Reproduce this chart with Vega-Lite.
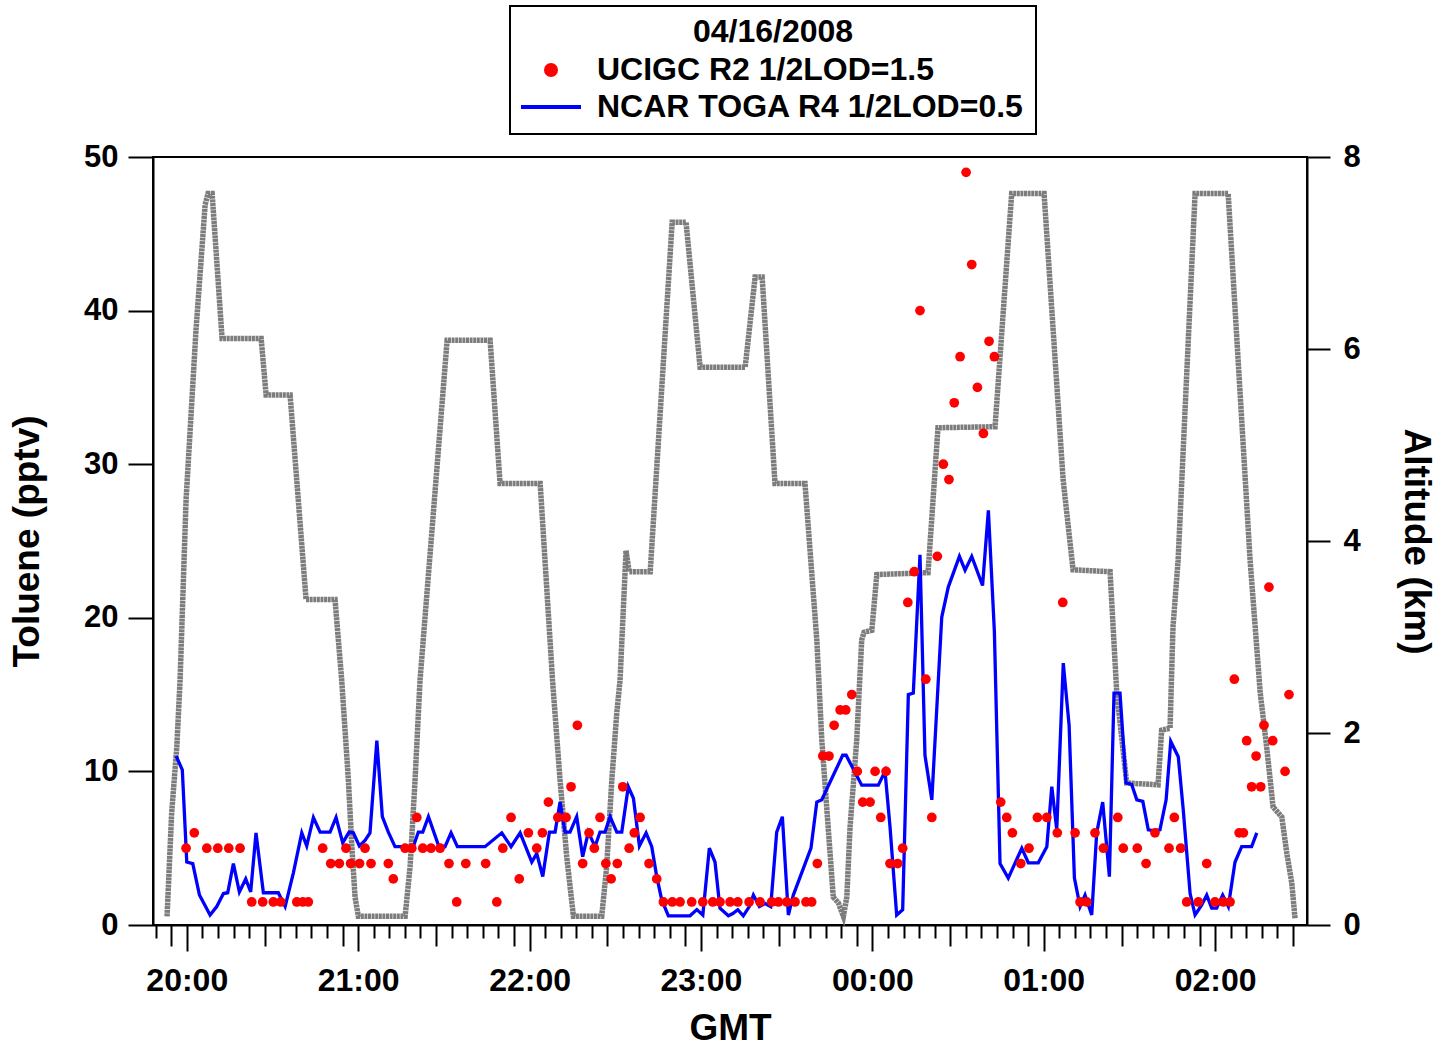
{
  "$schema": "https://vega.github.io/schema/vega-lite/v6.json",
  "width": 1154,
  "height": 768,
  "autosize": {"type": "none"},
  "padding": {"left": 153, "top": 157, "right": 134, "bottom": 123},
  "background": "white",
  "config": {
    "font": "Liberation Sans",
    "view": {"stroke": "black", "strokeWidth": 2},
    "axis": {
      "grid": false,
      "domainColor": "black",
      "domainWidth": 2,
      "tickColor": "black",
      "tickWidth": 2,
      "labelColor": "black",
      "labelFont": "Liberation Sans",
      "labelFontWeight": "bold",
      "labelFontSize": 31,
      "titleColor": "black",
      "titleFont": "Liberation Sans",
      "titleFontWeight": "bold",
      "titleFontSize": 37
    },
    "legend": {
      "orient": "none",
      "legendX": 357,
      "legendY": -151,
      "padding": 11,
      "strokeColor": "black",
      "strokeWidth": 2,
      "fillColor": "white",
      "titleFont": "Liberation Sans",
      "titleFontSize": 32,
      "titleFontWeight": "bold",
      "titleColor": "black",
      "titleAnchor": "middle",
      "titlePadding": 5,
      "titleLimit": 1000,
      "labelFont": "Liberation Sans",
      "labelFontSize": 32,
      "labelFontWeight": "bold",
      "labelColor": "black",
      "labelOffset": 30,
      "labelLimit": 1000,
      "symbolSize": 100,
      "symbolOffset": 14,
      "symbolStrokeWidth": 4,
      "rowPadding": 5
    }
  },
  "datasets": {
    "alt": [
      {"hour": 19.885, "km": 0.09}, {"hour": 19.912, "km": 1.17}, {"hour": 19.942, "km": 1.86}, {"hour": 19.961, "km": 2.55},
      {"hour": 19.996, "km": 4.43}, {"hour": 20.054, "km": 6.2}, {"hour": 20.107, "km": 7.5}, {"hour": 20.124, "km": 7.62},
      {"hour": 20.148, "km": 7.62}, {"hour": 20.206, "km": 6.11}, {"hour": 20.434, "km": 6.11}, {"hour": 20.463, "km": 5.52},
      {"hour": 20.603, "km": 5.52}, {"hour": 20.696, "km": 3.39}, {"hour": 20.865, "km": 3.39}, {"hour": 20.904, "km": 2.55},
      {"hour": 20.943, "km": 1.51}, {"hour": 20.963, "km": 0.82}, {"hour": 20.982, "km": 0.29}, {"hour": 21.001, "km": 0.09},
      {"hour": 21.274, "km": 0.09}, {"hour": 21.303, "km": 0.61}, {"hour": 21.332, "km": 1.51}, {"hour": 21.361, "km": 2.55},
      {"hour": 21.519, "km": 6.09}, {"hour": 21.77, "km": 6.09}, {"hour": 21.828, "km": 4.6}, {"hour": 22.062, "km": 4.6},
      {"hour": 22.134, "km": 2.55}, {"hour": 22.178, "km": 1.51}, {"hour": 22.217, "km": 0.71}, {"hour": 22.256, "km": 0.09},
      {"hour": 22.421, "km": 0.09}, {"hour": 22.45, "km": 0.61}, {"hour": 22.48, "km": 1.51}, {"hour": 22.509, "km": 2.21},
      {"hour": 22.528, "km": 2.55}, {"hour": 22.563, "km": 3.9}, {"hour": 22.581, "km": 3.68}, {"hour": 22.704, "km": 3.68},
      {"hour": 22.832, "km": 7.32}, {"hour": 22.913, "km": 7.32}, {"hour": 22.995, "km": 5.81}, {"hour": 23.258, "km": 5.81},
      {"hour": 23.316, "km": 6.75}, {"hour": 23.357, "km": 6.75}, {"hour": 23.432, "km": 4.6}, {"hour": 23.607, "km": 4.6},
      {"hour": 23.676, "km": 2.97}, {"hour": 23.705, "km": 1.93}, {"hour": 23.772, "km": 0.29}, {"hour": 23.802, "km": 0.23},
      {"hour": 23.831, "km": 0.09}, {"hour": 23.851, "km": 0.29}, {"hour": 23.87, "km": 1.02}, {"hour": 23.909, "km": 1.93},
      {"hour": 23.938, "km": 2.97}, {"hour": 23.952, "km": 3.05}, {"hour": 23.997, "km": 3.07}, {"hour": 24.026, "km": 3.65},
      {"hour": 24.325, "km": 3.67}, {"hour": 24.383, "km": 5.18}, {"hour": 24.716, "km": 5.19}, {"hour": 24.813, "km": 7.62},
      {"hour": 25.002, "km": 7.62}, {"hour": 25.113, "km": 4.64}, {"hour": 25.171, "km": 3.7}, {"hour": 25.387, "km": 3.68},
      {"hour": 25.426, "km": 2.42}, {"hour": 25.484, "km": 1.48}, {"hour": 25.667, "km": 1.46}, {"hour": 25.688, "km": 2.03},
      {"hour": 25.737, "km": 2.05}, {"hour": 25.754, "km": 3.1}, {"hour": 25.784, "km": 3.8}, {"hour": 25.883, "km": 7.62},
      {"hour": 26.076, "km": 7.62}, {"hour": 26.204, "km": 3.8}, {"hour": 26.263, "km": 2.42}, {"hour": 26.301, "km": 1.85},
      {"hour": 26.338, "km": 1.23}, {"hour": 26.389, "km": 1.125}, {"hour": 26.418, "km": 0.75}, {"hour": 26.447, "km": 0.44},
      {"hour": 26.466, "km": 0.07}
    ],
    "toga": [
      {"hour": 19.938, "toluene": 11.0}, {"hour": 19.974, "toluene": 10.1}, {"hour": 20.0, "toluene": 4.1}, {"hour": 20.035, "toluene": 4.0},
      {"hour": 20.074, "toluene": 1.95}, {"hour": 20.136, "toluene": 0.65}, {"hour": 20.175, "toluene": 1.2}, {"hour": 20.214, "toluene": 2.05},
      {"hour": 20.239, "toluene": 2.1}, {"hour": 20.272, "toluene": 4.0}, {"hour": 20.307, "toluene": 2.15}, {"hour": 20.344, "toluene": 3.0},
      {"hour": 20.373, "toluene": 2.15}, {"hour": 20.404, "toluene": 6.0}, {"hour": 20.447, "toluene": 2.1}, {"hour": 20.534, "toluene": 2.1},
      {"hour": 20.574, "toluene": 1.2}, {"hour": 20.622, "toluene": 3.4}, {"hour": 20.671, "toluene": 6.0}, {"hour": 20.7, "toluene": 5.15},
      {"hour": 20.739, "toluene": 7.0}, {"hour": 20.778, "toluene": 6.05}, {"hour": 20.836, "toluene": 6.05}, {"hour": 20.871, "toluene": 7.0},
      {"hour": 20.91, "toluene": 5.35}, {"hour": 20.947, "toluene": 6.05}, {"hour": 20.972, "toluene": 6.0}, {"hour": 21.007, "toluene": 5.15},
      {"hour": 21.04, "toluene": 5.5}, {"hour": 21.069, "toluene": 6.0}, {"hour": 21.109, "toluene": 12.0}, {"hour": 21.141, "toluene": 7.05},
      {"hour": 21.176, "toluene": 6.05}, {"hour": 21.215, "toluene": 5.1}, {"hour": 21.322, "toluene": 5.1}, {"hour": 21.351, "toluene": 6.05},
      {"hour": 21.377, "toluene": 6.05}, {"hour": 21.41, "toluene": 7.05}, {"hour": 21.468, "toluene": 5.2}, {"hour": 21.507, "toluene": 5.1},
      {"hour": 21.542, "toluene": 6.0}, {"hour": 21.579, "toluene": 5.1}, {"hour": 21.74, "toluene": 5.1}, {"hour": 21.838, "toluene": 6.0},
      {"hour": 21.892, "toluene": 5.1}, {"hour": 21.945, "toluene": 6.0}, {"hour": 22.013, "toluene": 4.1}, {"hour": 22.042, "toluene": 4.65},
      {"hour": 22.077, "toluene": 3.15}, {"hour": 22.116, "toluene": 6.05}, {"hour": 22.149, "toluene": 6.05}, {"hour": 22.178, "toluene": 8.0},
      {"hour": 22.207, "toluene": 6.05}, {"hour": 22.236, "toluene": 6.05}, {"hour": 22.275, "toluene": 7.05}, {"hour": 22.31, "toluene": 4.45},
      {"hour": 22.343, "toluene": 6.05}, {"hour": 22.382, "toluene": 5.1}, {"hour": 22.411, "toluene": 6.05}, {"hour": 22.44, "toluene": 6.05},
      {"hour": 22.47, "toluene": 7.05}, {"hour": 22.509, "toluene": 6.05}, {"hour": 22.538, "toluene": 6.05}, {"hour": 22.576, "toluene": 9.0},
      {"hour": 22.606, "toluene": 8.25}, {"hour": 22.641, "toluene": 5.15}, {"hour": 22.68, "toluene": 6.0}, {"hour": 22.713, "toluene": 5.1},
      {"hour": 22.742, "toluene": 3.15}, {"hour": 22.771, "toluene": 1.65}, {"hour": 22.81, "toluene": 0.6}, {"hour": 22.936, "toluene": 0.6},
      {"hour": 22.976, "toluene": 1.0}, {"hour": 23.011, "toluene": 0.65}, {"hour": 23.049, "toluene": 5.0}, {"hour": 23.082, "toluene": 4.1},
      {"hour": 23.111, "toluene": 1.1}, {"hour": 23.16, "toluene": 0.6}, {"hour": 23.186, "toluene": 0.75}, {"hour": 23.215, "toluene": 1.0},
      {"hour": 23.247, "toluene": 0.6}, {"hour": 23.282, "toluene": 1.2}, {"hour": 23.306, "toluene": 1.95}, {"hour": 23.341, "toluene": 1.2},
      {"hour": 23.374, "toluene": 1.4}, {"hour": 23.407, "toluene": 1.2}, {"hour": 23.442, "toluene": 6.05}, {"hour": 23.475, "toluene": 7.05},
      {"hour": 23.51, "toluene": 0.65}, {"hour": 23.539, "toluene": 1.95}, {"hour": 23.642, "toluene": 5.0}, {"hour": 23.676, "toluene": 8.0},
      {"hour": 23.705, "toluene": 8.15}, {"hour": 23.827, "toluene": 11.05}, {"hour": 23.847, "toluene": 11.05}, {"hour": 23.938, "toluene": 9.1},
      {"hour": 24.035, "toluene": 9.1}, {"hour": 24.074, "toluene": 10.0}, {"hour": 24.103, "toluene": 6.4}, {"hour": 24.142, "toluene": 0.65},
      {"hour": 24.177, "toluene": 1.0}, {"hour": 24.21, "toluene": 15.0}, {"hour": 24.239, "toluene": 15.1}, {"hour": 24.278, "toluene": 24.1},
      {"hour": 24.307, "toluene": 11.05}, {"hour": 24.347, "toluene": 8.15}, {"hour": 24.405, "toluene": 20.05}, {"hour": 24.443, "toluene": 22.0},
      {"hour": 24.508, "toluene": 24.0}, {"hour": 24.541, "toluene": 23.1}, {"hour": 24.58, "toluene": 24.0}, {"hour": 24.643, "toluene": 22.1},
      {"hour": 24.677, "toluene": 27.0}, {"hour": 24.712, "toluene": 19.1}, {"hour": 24.745, "toluene": 4.0}, {"hour": 24.793, "toluene": 3.05},
      {"hour": 24.872, "toluene": 5.0}, {"hour": 24.91, "toluene": 4.05}, {"hour": 24.968, "toluene": 4.05}, {"hour": 25.018, "toluene": 5.1},
      {"hour": 25.047, "toluene": 9.0}, {"hour": 25.076, "toluene": 6.2}, {"hour": 25.114, "toluene": 17.05}, {"hour": 25.148, "toluene": 13.0},
      {"hour": 25.179, "toluene": 3.05}, {"hour": 25.212, "toluene": 1.2}, {"hour": 25.241, "toluene": 1.95}, {"hour": 25.28, "toluene": 0.65},
      {"hour": 25.309, "toluene": 6.0}, {"hour": 25.344, "toluene": 8.0}, {"hour": 25.383, "toluene": 3.15}, {"hour": 25.41, "toluene": 15.1},
      {"hour": 25.445, "toluene": 15.1}, {"hour": 25.48, "toluene": 9.25}, {"hour": 25.513, "toluene": 9.15}, {"hour": 25.543, "toluene": 8.15},
      {"hour": 25.578, "toluene": 8.05}, {"hour": 25.61, "toluene": 6.2}, {"hour": 25.639, "toluene": 6.15}, {"hour": 25.678, "toluene": 6.2},
      {"hour": 25.714, "toluene": 8.15}, {"hour": 25.741, "toluene": 11.95}, {"hour": 25.785, "toluene": 10.95}, {"hour": 25.814, "toluene": 7.5},
      {"hour": 25.854, "toluene": 2.05}, {"hour": 25.883, "toluene": 0.65}, {"hour": 25.922, "toluene": 1.3}, {"hour": 25.951, "toluene": 1.95},
      {"hour": 25.98, "toluene": 1.1}, {"hour": 26.009, "toluene": 1.1}, {"hour": 26.044, "toluene": 1.95}, {"hour": 26.077, "toluene": 1.2},
      {"hour": 26.116, "toluene": 4.1}, {"hour": 26.155, "toluene": 5.1}, {"hour": 26.213, "toluene": 5.1}, {"hour": 26.243, "toluene": 6.0}
    ],
    "ucigc": [
      {"hour": 19.996, "toluene": 5}, {"hour": 20.044, "toluene": 6}, {"hour": 20.117, "toluene": 5}, {"hour": 20.181, "toluene": 5},
      {"hour": 20.245, "toluene": 5}, {"hour": 20.311, "toluene": 5}, {"hour": 20.379, "toluene": 1.5}, {"hour": 20.443, "toluene": 1.5},
      {"hour": 20.505, "toluene": 1.5}, {"hour": 20.548, "toluene": 1.5}, {"hour": 20.642, "toluene": 1.5}, {"hour": 20.677, "toluene": 1.5},
      {"hour": 20.709, "toluene": 1.5}, {"hour": 20.793, "toluene": 5}, {"hour": 20.84, "toluene": 4}, {"hour": 20.89, "toluene": 4},
      {"hour": 20.929, "toluene": 5}, {"hour": 20.956, "toluene": 4}, {"hour": 21.008, "toluene": 4}, {"hour": 21.04, "toluene": 5},
      {"hour": 21.075, "toluene": 4}, {"hour": 21.176, "toluene": 4}, {"hour": 21.205, "toluene": 3}, {"hour": 21.274, "toluene": 5},
      {"hour": 21.313, "toluene": 5}, {"hour": 21.342, "toluene": 7}, {"hour": 21.377, "toluene": 5}, {"hour": 21.425, "toluene": 5},
      {"hour": 21.478, "toluene": 5}, {"hour": 21.53, "toluene": 4}, {"hour": 21.575, "toluene": 1.5}, {"hour": 21.628, "toluene": 4},
      {"hour": 21.744, "toluene": 4}, {"hour": 21.809, "toluene": 1.5}, {"hour": 21.844, "toluene": 5}, {"hour": 21.892, "toluene": 7},
      {"hour": 21.94, "toluene": 3}, {"hour": 21.993, "toluene": 6}, {"hour": 22.042, "toluene": 5}, {"hour": 22.075, "toluene": 6},
      {"hour": 22.11, "toluene": 8}, {"hour": 22.165, "toluene": 7}, {"hour": 22.213, "toluene": 7}, {"hour": 22.242, "toluene": 9},
      {"hour": 22.279, "toluene": 13}, {"hour": 22.31, "toluene": 4}, {"hour": 22.347, "toluene": 6}, {"hour": 22.378, "toluene": 5},
      {"hour": 22.411, "toluene": 7}, {"hour": 22.445, "toluene": 4}, {"hour": 22.476, "toluene": 3}, {"hour": 22.512, "toluene": 4},
      {"hour": 22.544, "toluene": 9}, {"hour": 22.581, "toluene": 5}, {"hour": 22.611, "toluene": 6}, {"hour": 22.645, "toluene": 7},
      {"hour": 22.697, "toluene": 4}, {"hour": 22.742, "toluene": 3}, {"hour": 22.781, "toluene": 1.5}, {"hour": 22.833, "toluene": 1.5},
      {"hour": 22.878, "toluene": 1.5}, {"hour": 22.946, "toluene": 1.5}, {"hour": 23.011, "toluene": 1.5}, {"hour": 23.069, "toluene": 1.5},
      {"hour": 23.111, "toluene": 1.5}, {"hour": 23.17, "toluene": 1.5}, {"hour": 23.215, "toluene": 1.5}, {"hour": 23.281, "toluene": 1.5},
      {"hour": 23.345, "toluene": 1.5}, {"hour": 23.413, "toluene": 1.5}, {"hour": 23.452, "toluene": 1.5}, {"hour": 23.501, "toluene": 1.5},
      {"hour": 23.549, "toluene": 1.5}, {"hour": 23.613, "toluene": 1.5}, {"hour": 23.646, "toluene": 1.5}, {"hour": 23.679, "toluene": 4},
      {"hour": 23.711, "toluene": 11}, {"hour": 23.747, "toluene": 11}, {"hour": 23.777, "toluene": 13}, {"hour": 23.812, "toluene": 14},
      {"hour": 23.845, "toluene": 14}, {"hour": 23.88, "toluene": 15}, {"hour": 23.912, "toluene": 10}, {"hour": 23.944, "toluene": 8},
      {"hour": 23.987, "toluene": 8}, {"hour": 24.016, "toluene": 10}, {"hour": 24.049, "toluene": 7}, {"hour": 24.08, "toluene": 10},
      {"hour": 24.103, "toluene": 4}, {"hour": 24.148, "toluene": 4}, {"hour": 24.177, "toluene": 5}, {"hour": 24.207, "toluene": 21},
      {"hour": 24.245, "toluene": 23}, {"hour": 24.278, "toluene": 40}, {"hour": 24.312, "toluene": 16}, {"hour": 24.347, "toluene": 7},
      {"hour": 24.379, "toluene": 24}, {"hour": 24.414, "toluene": 30}, {"hour": 24.447, "toluene": 29}, {"hour": 24.478, "toluene": 34},
      {"hour": 24.512, "toluene": 37}, {"hour": 24.547, "toluene": 49}, {"hour": 24.58, "toluene": 43}, {"hour": 24.613, "toluene": 35},
      {"hour": 24.648, "toluene": 32}, {"hour": 24.681, "toluene": 38}, {"hour": 24.712, "toluene": 37}, {"hour": 24.749, "toluene": 8},
      {"hour": 24.784, "toluene": 7}, {"hour": 24.817, "toluene": 6}, {"hour": 24.866, "toluene": 4}, {"hour": 24.914, "toluene": 5},
      {"hour": 24.963, "toluene": 7}, {"hour": 25.018, "toluene": 7}, {"hour": 25.079, "toluene": 6}, {"hour": 25.111, "toluene": 21},
      {"hour": 25.183, "toluene": 6}, {"hour": 25.212, "toluene": 1.5}, {"hour": 25.251, "toluene": 1.5}, {"hour": 25.299, "toluene": 6},
      {"hour": 25.348, "toluene": 5}, {"hour": 25.432, "toluene": 7}, {"hour": 25.464, "toluene": 5}, {"hour": 25.546, "toluene": 5},
      {"hour": 25.597, "toluene": 4}, {"hour": 25.649, "toluene": 6}, {"hour": 25.731, "toluene": 5}, {"hour": 25.762, "toluene": 7},
      {"hour": 25.799, "toluene": 5}, {"hour": 25.834, "toluene": 1.5}, {"hour": 25.902, "toluene": 1.5}, {"hour": 25.951, "toluene": 4},
      {"hour": 25.999, "toluene": 1.5}, {"hour": 26.048, "toluene": 1.5}, {"hour": 26.087, "toluene": 1.5}, {"hour": 26.112, "toluene": 16},
      {"hour": 26.14, "toluene": 6}, {"hour": 26.165, "toluene": 6}, {"hour": 26.184, "toluene": 12}, {"hour": 26.213, "toluene": 9},
      {"hour": 26.239, "toluene": 11}, {"hour": 26.266, "toluene": 9}, {"hour": 26.285, "toluene": 13}, {"hour": 26.314, "toluene": 22},
      {"hour": 26.336, "toluene": 12}, {"hour": 26.408, "toluene": 10}, {"hour": 26.431, "toluene": 15}
    ]
  },
  "layer": [
    {
      "data": {"name": "alt"},
      "mark": {"type": "line", "color": "#7c7c7c", "strokeWidth": 5.5, "strokeDash": [3, 0.6]},
      "encoding": {
        "x": {
          "field": "hour", "type": "quantitative",
          "scale": {"domain": [19.803, 26.536], "nice": false, "zero": false},
          "axis": {
            "orient": "bottom", "title": null, "labels": false, "domain": false, "tickSize": 13,
            "values": [19.8182,
              20.0909, 20.1818, 20.2727, 20.3636, 20.5455, 20.6364, 20.7273, 20.8182,
              21.0909, 21.1818, 21.2727, 21.3636, 21.5455, 21.6364, 21.7273, 21.8182,
              22.0909, 22.1818, 22.2727, 22.3636, 22.5455, 22.6364, 22.7273, 22.8182,
              23.0909, 23.1818, 23.2727, 23.3636, 23.5455, 23.6364, 23.7273, 23.8182,
              24.0909, 24.1818, 24.2727, 24.3636, 24.5455, 24.6364, 24.7273, 24.8182,
              25.0909, 25.1818, 25.2727, 25.3636, 25.5455, 25.6364, 25.7273, 25.8182,
              26.0909, 26.1818, 26.2727, 26.3636]
          }
        },
        "y": {
          "field": "km", "type": "quantitative",
          "scale": {"domain": [0, 8], "nice": false},
          "axis": {"orient": "right", "values": [0, 2, 4, 6, 8], "tickSize": 23, "labelPadding": 13, "title": "Altitude (km)", "titlePadding": 36}
        }
      }
    },
    {
      "data": {"name": "toga"},
      "mark": {"type": "line", "strokeWidth": 3.3},
      "encoding": {
        "x": {
          "field": "hour", "type": "quantitative",
          "scale": {"domain": [19.803, 26.536], "nice": false, "zero": false},
          "axis": {
            "orient": "bottom", "title": "GMT", "tickSize": 26, "labelPadding": 14, "titlePadding": 14, "labelFontSize": 32,
            "values": [20, 21, 22, 23, 24, 25, 26],
            "labelExpr": "(datum.value % 24 < 10 ? '0' : '') + (datum.value % 24) + ':00'"
          }
        },
        "y": {
          "field": "toluene", "type": "quantitative",
          "scale": {"domain": [0, 50], "nice": false},
          "axis": {"orient": "left", "values": [0, 10, 20, 30, 40, 50], "tickSize": 25, "labelPadding": 10, "title": "Toluene (pptv)", "titlePadding": 37}
        },
        "color": {
          "datum": "NCAR TOGA R4 1/2LOD=0.5",
          "scale": {"domain": ["UCIGC R2 1/2LOD=1.5", "NCAR TOGA R4 1/2LOD=0.5"], "range": ["#ff0000", "#0000ff"]},
          "legend": {
            "title": "04/16/2008",
            "encode": {
              "symbols": {
                "update": {
                  "shape": {"signal": "datum.value === 'UCIGC R2 1/2LOD=1.5' ? 'circle' : 'M-6,0H6'"},
                  "size": {"value": 100},
                  "fill": {"signal": "datum.value === 'UCIGC R2 1/2LOD=1.5' ? '#ff0000' : 'transparent'"},
                  "stroke": {"signal": "datum.value === 'UCIGC R2 1/2LOD=1.5' ? 'transparent' : '#0000ff'"},
                  "strokeWidth": {"value": 4},
                  "opacity": {"value": 1},
                  "fillOpacity": {"value": 1},
                  "strokeOpacity": {"value": 1}
                }
              }
            }
          }
        }
      }
    },
    {
      "data": {"name": "ucigc"},
      "mark": {"type": "point", "filled": true, "size": 95, "opacity": 1},
      "encoding": {
        "x": {
          "field": "hour", "type": "quantitative",
          "scale": {"domain": [19.803, 26.536], "nice": false, "zero": false},
          "axis": {
            "orient": "bottom", "title": null, "labels": false, "domain": false, "tickSize": 21,
            "values": [19.9091, 20.4545, 20.9091, 21.4545, 21.9091, 22.4545, 22.9091, 23.4545, 23.9091, 24.4545, 24.9091, 25.4545, 25.9091, 26.4545]
          }
        },
        "y": {
          "field": "toluene", "type": "quantitative",
          "scale": {"domain": [0, 50], "nice": false},
          "axis": null
        },
        "color": {"datum": "UCIGC R2 1/2LOD=1.5"}
      }
    }
  ],
  "resolve": {
    "scale": {"y": "independent"},
    "axis": {"x": "independent", "y": "independent"}
  }
}
